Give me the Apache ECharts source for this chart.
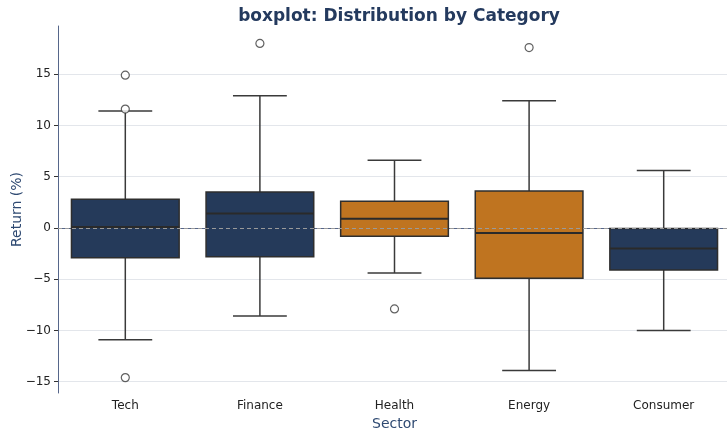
<!DOCTYPE html>
<html>
<head>
<meta charset="utf-8">
<script src="https://cdn.jsdelivr.net/npm/echarts@6/dist/echarts.min.js"></script>
<style>
  html, body { margin: 0; padding: 0; background: #fff; }
  #chart { width: 727px; height: 431px; }
</style>
</head>
<body>
<div id="chart"></div>
<script>
// data
var sectors = ["Tech", "Finance", "Health", "Energy", "Consumer"];
// [min whisker, Q1, median, Q3, max whisker]
var boxStats = [
  [-10.9, -2.9, 0.1, 2.8, 11.4],
  [-8.6, -2.8, 1.4, 3.5, 12.9],
  [-4.4, -0.8, 0.9, 2.6, 6.6],
  [-13.9, -4.9, -0.5, 3.6, 12.4],
  [-10.0, -4.1, -2.0, -0.05, 5.6]
];
var boxColors = ["#253a5a", "#253a5a", "#bf7420", "#bf7420", "#253a5a"];
// [sector index, value]
var outliers = [
  [0, 14.9], [0, 11.6], [0, -14.6],
  [1, 18.0],
  [2, -7.9],
  [3, 17.6]
];
var gridTicks = [-15, -10, -5, 0, 5, 10, 15];

var chart = echarts.init(document.getElementById("chart"));
var font = "DejaVu Sans";

var option = {
  animation: false,
  title: {
    text: "boxplot: Distribution by Category",
    left: 394,
    top: 3,
    textAlign: "center",
    textStyle: { fontFamily: font, fontSize: 17, fontWeight: "bold", color: "#243a5e" }
  },
  grid: { left: 58, right: -4, top: 26, bottom: 38, outerBoundsMode: "none", containLabel: false },
  xAxis: {
    type: "category",
    data: sectors,
    name: "Sector",
    nameLocation: "middle",
    nameGap: 23,
    nameTextStyle: { fontFamily: font, fontSize: 14, color: "#2f4a72" },
    axisLine: { lineStyle: { color: "#56668a", width: 1 } },
    axisTick: { alignWithLabel: true, length: 4, lineStyle: { color: "#333" } },
    axisLabel: { fontFamily: font, fontSize: 12, color: "#222", margin: 7 },
    splitLine: { show: false }
  },
  yAxis: {
    type: "value",
    min: -16.1,
    max: 19.7,
    splitNumber: 7,
    name: "Return (%)",
    nameLocation: "middle",
    nameGap: 34,
    nameMoveOverlap: false,
    nameTextStyle: { fontFamily: font, fontSize: 14, color: "#2f4a72" },
    axisLine: { show: true, lineStyle: { color: "#56668a", width: 1 } },
    axisTick: { show: true, length: 4, lineStyle: { color: "#333" }, customValues: gridTicks },
    axisLabel: {
      fontFamily: font, fontSize: 12, color: "#222", margin: 7,
      customValues: gridTicks,
      formatter: function (v) { return String(v).replace("-", "\u2212"); }
    },
    splitLine: { show: false }
  },
  series: [
    {
      // horizontal grid lines behind the boxes
      type: "scatter",
      data: [],
      z: 0,
      silent: true,
      markLine: {
        silent: true,
        z: 0,
        symbol: "none",
        label: { show: false },
        lineStyle: { color: "#e3e6eb", width: 1, type: "solid" },
        data: gridTicks.map(function (t) { return { yAxis: t }; })
      }
    },
    {
      type: "custom",
      z: 10,
      data: boxStats.map(function (s, i) { return [i].concat(s); }),
      encode: { x: 0, y: [1, 2, 3, 4, 5] },
      renderItem: function (params, api) {
        var i = api.value(0);
        var band = api.size([1, 0])[0];
        var half = band * 0.4;
        var cap = band * 0.2;
        var pMin = api.coord([i, api.value(1)]);
        var pQ1 = api.coord([i, api.value(2)]);
        var pMed = api.coord([i, api.value(3)]);
        var pQ3 = api.coord([i, api.value(4)]);
        var pMax = api.coord([i, api.value(5)]);
        var x = pMin[0];
        var lineStyle = { stroke: "#3a3a3a", lineWidth: 1.5 };
        return {
          type: "group",
          children: [
            { type: "line", shape: { x1: x, y1: pQ3[1], x2: x, y2: pMax[1] }, style: lineStyle },
            { type: "line", shape: { x1: x, y1: pQ1[1], x2: x, y2: pMin[1] }, style: lineStyle },
            { type: "line", shape: { x1: x - cap, y1: pMax[1], x2: x + cap, y2: pMax[1] }, style: lineStyle },
            { type: "line", shape: { x1: x - cap, y1: pMin[1], x2: x + cap, y2: pMin[1] }, style: lineStyle },
            {
              type: "rect",
              shape: { x: x - half, y: pQ3[1], width: half * 2, height: pQ1[1] - pQ3[1] },
              style: { fill: boxColors[i], stroke: "#2e2e2e", lineWidth: 1.5 }
            },
            { type: "line", shape: { x1: x - half, y1: pMed[1], x2: x + half, y2: pMed[1] }, style: { stroke: "#2a2a2a", lineWidth: 2 } }
          ]
        };
      }
    },
    {
      type: "scatter",
      z: 11,
      data: outliers,
      symbol: "circle",
      symbolSize: 8,
      itemStyle: { color: "#fff", borderColor: "#3a3a3a", borderWidth: 1.2 }
    },
    {
      // dashed zero reference line
      type: "scatter",
      data: [],
      z: 12,
      silent: true,
      markLine: {
        silent: true,
        z: 12,
        symbol: "none",
        label: { show: false },
        lineStyle: { color: "#9a9a9a", width: 1, type: [4, 3] },
        data: [{ yAxis: 0 }]
      }
    }
  ]
};

option && chart.setOption(option);
</script>
</body>
</html>
